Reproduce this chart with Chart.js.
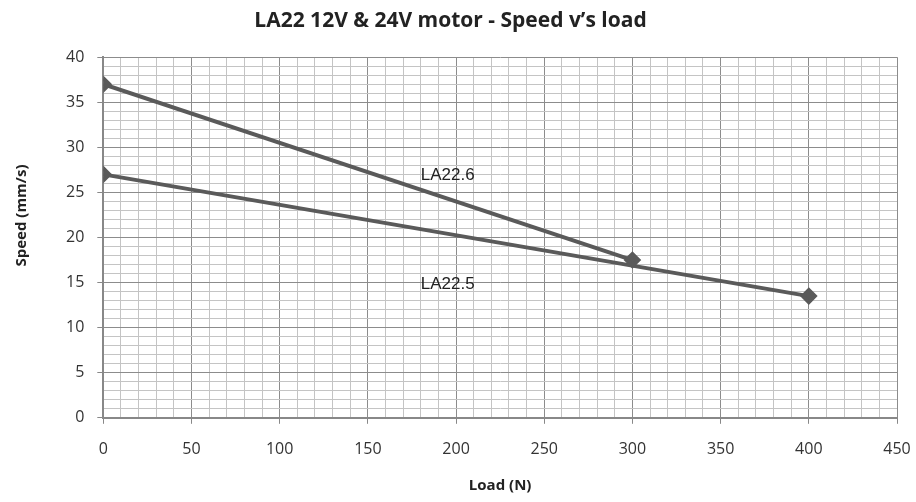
<!DOCTYPE html>
<html>
<head>
<meta charset="utf-8">
<script src="https://cdn.jsdelivr.net/npm/chart.js@4/dist/chart.umd.min.js"></script>
<style>
  html, body { margin: 0; padding: 0; background: #fff; }
  #wrap { width: 916px; height: 502px; }
</style>
</head>
<body>
<div id="wrap"><canvas id="chart_speed"></canvas></div>
<script>
// Speed vs load data
const loadLA226 = [0, 300];
const speedLA226 = [37, 17.5];
const loadLA225 = [0, 400];
const speedLA225 = [27, 13.5];

// In-plot labels: [load, speed] where the text starts
const seriesLabels = ['LA22.6', 'LA22.5'];
const labelPos = [[180, 26.9], [180, 14.85]];

const lineGrey = '#5a5a5a';
const font = '"Open Sans", sans-serif';

function toPoints(xs, ys) {
    const pts = [];
    for (let i = 0; i < xs.length; i++) {
        pts.push({x: xs[i], y: ys[i]});
    }
    return pts;
}

// Draws the series names inside the plot, and the y axis title
// (which sits a bit above the middle of the plot in the original)
const seriesLabelPlugin = {
    id: 'seriesLabels',
    afterDatasetsDraw(chart) {
        const ctx = chart.ctx;
        const xs = chart.scales.x;
        const ys = chart.scales.y;
        const area = chart.chartArea;
        ctx.save();
        ctx.font = '17px "Liberation Sans", Arial, sans-serif';
        ctx.fillStyle = '#222';
        ctx.textAlign = 'left';
        ctx.textBaseline = 'middle';
        for (let i = 0; i < seriesLabels.length; i++) {
            ctx.fillText(seriesLabels[i], xs.getPixelForValue(labelPos[i][0]), ys.getPixelForValue(labelPos[i][1]));
        }

        ctx.translate(area.left - 82, (area.top + area.bottom) / 2 - 22);
        ctx.rotate(-Math.PI / 2);
        ctx.font = 'bold 15px ' + font;
        ctx.textAlign = 'center';
        ctx.fillText('Speed (mm/s)', 0, 0);
        ctx.restore();
    }
};

function gridColour(major) {
    return ctx => (ctx.tick && ctx.tick.value % major === 0) ? '#8c8c8c' : '#c4c4c4';
}
function tickColour(major) {
    return ctx => (ctx.tick && ctx.tick.value % major === 0) ? '#888' : 'rgba(0,0,0,0)';
}

const ctx = document.getElementById('chart_speed').getContext('2d');
const speedChart = new Chart(ctx, {
    type: 'line',
    data: {
        datasets: [
            {
                label: 'LA22.6',
                data: toPoints(loadLA226, speedLA226),
                borderColor: lineGrey,
                backgroundColor: lineGrey,
                borderWidth: 4,
                pointStyle: 'rectRot',
                pointRadius: 6,
                pointHoverRadius: 6
            },
            {
                label: 'LA22.5',
                data: toPoints(loadLA225, speedLA225),
                borderColor: lineGrey,
                backgroundColor: lineGrey,
                borderWidth: 4,
                pointStyle: 'rectRot',
                pointRadius: 6,
                pointHoverRadius: 6
            }
        ]
    },
    options: {
        responsive: true,
        maintainAspectRatio: false,
        animation: false,
        layout: {
            padding: {left: 4, right: 19, top: 4, bottom: 2}
        },
        plugins: {
            legend: {display: false},
            tooltip: {enabled: false},
            title: {
                display: true,
                text: 'LA22 12V & 24V motor - Speed v\u2019s load',
                color: '#222',
                font: {family: font, size: 21, weight: 'bold'},
                padding: {top: 4, bottom: 24}
            }
        },
        scales: {
            x: {
                type: 'linear',
                min: 0,
                max: 450,
                afterFit: s => { s.paddingRight = 0; },
                border: {color: '#888', width: 2},
                grid: {
                    color: gridColour(50),
                    tickColor: tickColour(50),
                    tickLength: 6
                },
                ticks: {
                    stepSize: 10,
                    autoSkip: false,
                    maxRotation: 0,
                    color: '#333',
                    font: {family: font, size: 16},
                    padding: 16,
                    callback: v => (v % 50 === 0 ? v : '')
                },
                title: {
                    display: true,
                    text: 'Load (N)',
                    color: '#222',
                    font: {family: font, size: 15, weight: 'bold'},
                    padding: {top: 2, bottom: 5}
                }
            },
            y: {
                type: 'linear',
                min: 0,
                max: 40,
                // room for the hand-drawn axis title
                afterFit: s => { s.width += 49; },
                border: {color: '#888', width: 2},
                grid: {
                    color: gridColour(5),
                    tickColor: tickColour(5),
                    tickLength: 6
                },
                ticks: {
                    stepSize: 1,
                    autoSkip: false,
                    color: '#333',
                    font: {family: font, size: 16},
                    padding: 13,
                    callback: v => (v % 5 === 0 ? v : '')
                },
                title: {display: false}
            }
        }
    },
    plugins: [seriesLabelPlugin]
});
</script>
</body>
</html>
